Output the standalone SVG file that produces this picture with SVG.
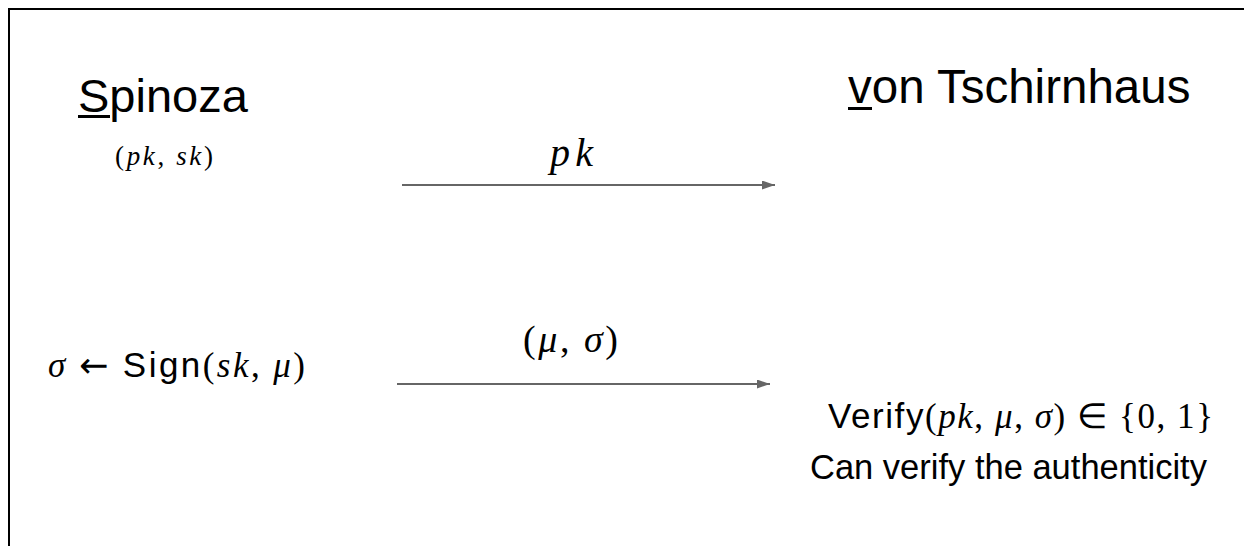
<svg xmlns="http://www.w3.org/2000/svg" width="1244" height="546" viewBox="0 0 1244 546">
<defs>
<style>
.sans{font-family:"Liberation Sans",Arial,sans-serif;fill:#000}
.math{font-family:"Liberation Serif","Times New Roman",serif;fill:#000}
.it{font-style:italic}
.ms{font-family:"Liberation Sans",Arial,sans-serif}
.ar{font-family:"DejaVu Sans",sans-serif}
.conn{stroke:#666;stroke-width:2;fill:none}
</style>
<marker id="ah" markerWidth="13" markerHeight="9" refX="13" refY="4.5" orient="auto" markerUnits="userSpaceOnUse">
<path d="M0,0 L13,4.5 L0,9 Z" fill="#666"/>
</marker>
</defs>
<rect width="1244" height="546" fill="#fff"/>
<path d="M9,546 L9,9 L1244,9" stroke="#000" stroke-width="2" fill="none"/>
<g id="spinoza">
<text class="sans" x="78" y="112" font-size="47">Spinoza</text>
<rect x="78" y="115" width="32" height="3" fill="#000"/>
<text class="math" x="115" y="165" font-size="27" textLength="98" lengthAdjust="spacing">(<tspan class="it">pk</tspan>, <tspan class="it">sk</tspan>)</text>
</g>
<g id="tschirnhaus">
<text class="sans" x="848" y="103" font-size="47.5">von Tschirnhaus</text>
<rect x="848" y="107" width="24" height="3" fill="#000"/>
</g>
<g id="sign">
<text class="math" x="48" y="377" font-size="35" textLength="257" lengthAdjust="spacing"><tspan class="it">σ</tspan> <tspan class="ar">←</tspan><tspan class="ms"> Sign</tspan>(<tspan class="it">sk</tspan>, <tspan class="it">μ</tspan>)</text>
</g>
<g id="verify">
<text class="math" x="828" y="428" font-size="35" textLength="385" lengthAdjust="spacing"><tspan class="ms">Verify</tspan>(<tspan class="it">pk</tspan>, <tspan class="it">μ</tspan>, <tspan class="it">σ</tspan>) ∈ {0, 1}</text>
<text class="sans" x="810" y="479" font-size="34.5">Can verify the authenticity</text>
</g>
<g id="connectors">
<line class="conn" x1="402" y1="185" x2="775" y2="185" marker-end="url(#ah)"/>
<text class="math it" x="550" y="166" font-size="40" textLength="43" lengthAdjust="spacing">pk</text>
<line class="conn" x1="397" y1="384" x2="770" y2="384" marker-end="url(#ah)"/>
<text class="math" x="523" y="352" font-size="38" textLength="95" lengthAdjust="spacing">(<tspan class="it">μ</tspan>, <tspan class="it">σ</tspan>)</text>
</g>
</svg>
